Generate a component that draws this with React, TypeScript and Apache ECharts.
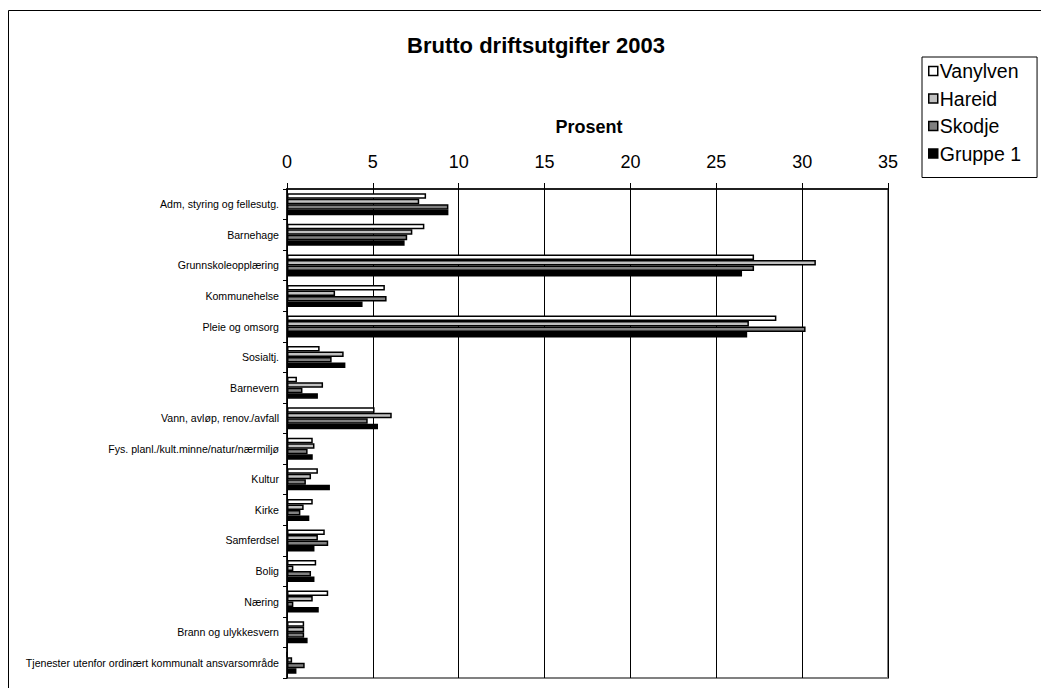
import React, { useEffect, useRef } from "react";
import * as echarts from "echarts";

const categories = [
  "Adm, styring og fellesutg.",
  "Barnehage",
  "Grunnskoleopplæring",
  "Kommunehelse",
  "Pleie og omsorg",
  "Sosialtj.",
  "Barnevern",
  "Vann, avløp, renov./avfall",
  "Fys. planl./kult.minne/natur/nærmiljø",
  "Kultur",
  "Kirke",
  "Samferdsel",
  "Bolig",
  "Næring",
  "Brann og ulykkesvern",
  "Tjenester utenfor ordinært kommunalt ansvarsområde",
];

const vanylven = [8.1, 8.0, 27.2, 5.7, 28.5, 1.9, 0.58, 5.1, 1.5, 1.8, 1.5, 2.2, 1.7, 2.4, 1.0, 0];
const hareid = [7.7, 7.3, 30.8, 2.8, 26.9, 3.3, 2.1, 6.1, 1.6, 1.4, 0.97, 1.8, 0.37, 1.5, 1.0, 0.3];
const skodje = [9.4, 7.0, 27.2, 5.8, 30.2, 2.6, 0.9, 4.7, 1.2, 1.1, 0.78, 2.4, 1.4, 0.37, 1.0, 1.03];
const gruppe1 = [9.4, 6.85, 26.5, 4.4, 26.8, 3.4, 1.8, 5.3, 1.5, 2.5, 1.3, 1.6, 1.6, 1.85, 1.2, 0.55];

const seriesNames = ["Vanylven", "Hareid", "Skodje", "Gruppe 1"];
const seriesColors = ["#ffffff", "#c0c0c0", "#808080", "#000000"];
const seriesData = [vanylven, hareid, skodje, gruppe1];

const xTicks = { min: 0, max: 35, interval: 5 };

const FONT = "'Liberation Sans', Arial, sans-serif";

export default function App() {
  const ref = useRef<HTMLDivElement>(null);
  useEffect(() => {
    if (!ref.current) return;
    const chart = echarts.init(ref.current, null, { renderer: "svg" });
    chart.setOption({
      animation: false,
      backgroundColor: "#ffffff",
      textStyle: { fontFamily: FONT, color: "#000" },
      title: {
        text: "Brutto driftsutgifter 2003",
        left: 531,
        top: 29,
        textAlign: "center",
        textStyle: { fontFamily: FONT, fontSize: 22, fontWeight: "bold", color: "#000" },
      },
      graphic: [
        {
          type: "rect",
          shape: { x: 8.5, y: 10.5, width: 1200, height: 1000 },
          style: { fill: "none", stroke: "#000", lineWidth: 1 },
          silent: true,
          z: -10,
        },
        {
          type: "text",
          x: 589,
          y: 127,
          style: {
            text: "Prosent",
            fontFamily: FONT,
            fontSize: 18,
            fontWeight: "bold",
            fill: "#000",
            align: "center",
            verticalAlign: "middle",
          },
        },
      ],
      legend: {
        orient: "vertical",
        left: 922,
        top: 57,
        padding: [4, 16, 14, 6],
        itemWidth: 9,
        itemHeight: 9,
        itemGap: 7.5,
        borderColor: "#000",
        borderWidth: 1,
        backgroundColor: "#fff",
        icon: "rect",
        data: seriesNames,
        itemStyle: { borderColor: "#000", borderWidth: 1.5 },
        textStyle: { fontFamily: FONT, fontSize: 19.5, color: "#000", padding: [0, 0, 0, -3] },
      },
      grid: {
        left: 287,
        top: 189,
        width: 601,
        height: 489,
        show: true,
        borderColor: "#808080",
        borderWidth: 2,
        backgroundColor: "transparent",
      },
      xAxis: {
        type: "value",
        position: "top",
        min: xTicks.min,
        max: xTicks.max,
        interval: xTicks.interval,
        axisLine: { show: true, lineStyle: { color: "#000", width: 1.5 } },
        axisTick: { show: true, length: 6, lineStyle: { color: "#000" } },
        axisLabel: { fontFamily: FONT, fontSize: 18, color: "#000", margin: 18 },
        splitLine: { show: true, lineStyle: { color: "#000", width: 1 } },
      },
      yAxis: {
        type: "category",
        inverse: true,
        data: categories,
        axisLine: { show: true, onZero: false, lineStyle: { color: "#000", width: 1.5 } },
        axisTick: { show: true, length: 4, lineStyle: { color: "#000" } },
        axisLabel: { fontFamily: FONT, fontSize: 10.6, color: "#000", margin: 8 },
        splitLine: { show: false },
      },
      series: seriesNames.map((name, i) => ({
        name,
        type: "bar",
        data: seriesData[i],
        barGap: "0%",
        barCategoryGap: "28%",
        itemStyle: { color: seriesColors[i], borderColor: "#000", borderWidth: 1.5 },
      })),
    });
    return () => chart.dispose();
  }, []);
  return (
    <div
      ref={ref}
      style={{ position: "fixed", left: 0, top: 0, width: 1041, height: 688, background: "#fff" }}
    />
  );
}
